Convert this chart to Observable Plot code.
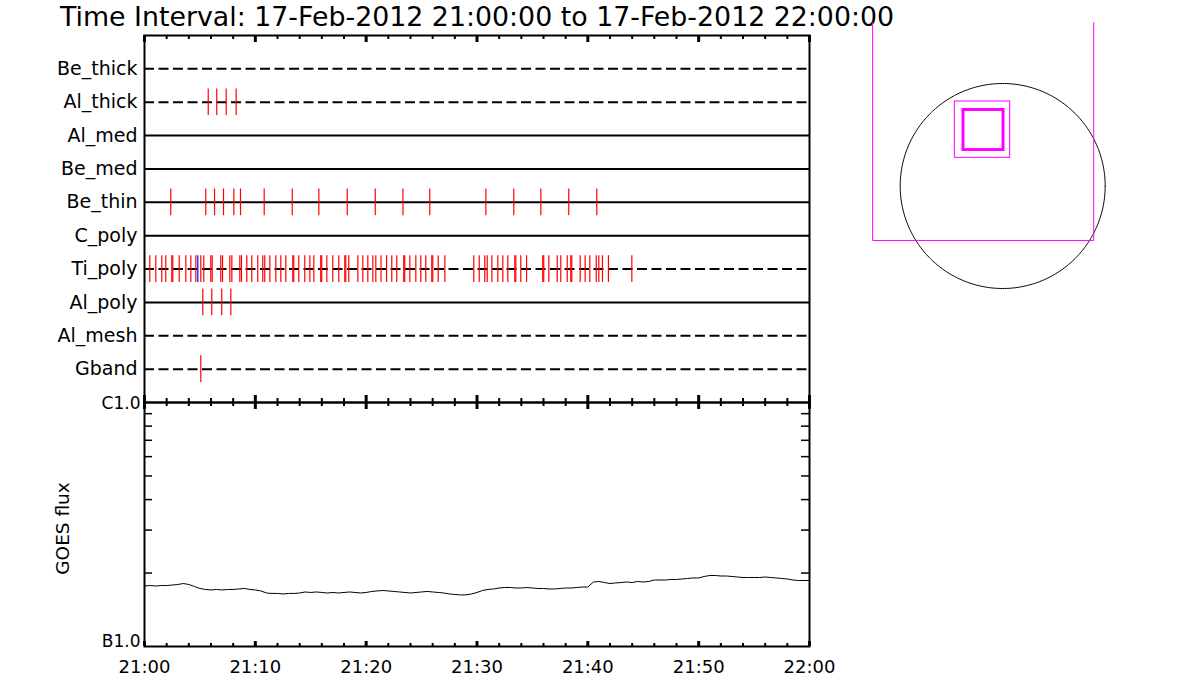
<!DOCTYPE html>
<html><head><meta charset="utf-8">
<script src="https://cdn.jsdelivr.net/npm/d3@7"></script>
<script src="https://cdn.jsdelivr.net/npm/@observablehq/plot@0.6"></script>
<style>
body{margin:0;background:#fff;}
#page{position:relative;width:1200px;height:700px;overflow:hidden;font-family:"DejaVu Sans",sans-serif;background:#fff;}
#title{position:absolute;left:60px;top:1px;font-size:26.8px;white-space:nowrap;color:#000;}
</style></head><body>
<div id="page"><div id="title">Time Interval: 17-Feb-2012 21:00:00 to 17-Feb-2012 22:00:00</div></div>
<script>
// ---- data (minutes after 21:00) ----
const rows = ["Be_thick","Al_thick","Al_med","Be_med","Be_thin","C_poly","Ti_poly","Al_poly","Al_mesh","Gband"];
const dashedRows = ["Be_thick","Al_thick","Ti_poly","Al_mesh","Gband"];
const solidRows = ["Al_med","Be_med","Be_thin","C_poly","Al_poly"];

const alThickTimes = [5.75, 6.52, 7.37, 8.27];
const beThinTimes = [2.37, 5.53, 6.32, 7.13, 8.06, 8.66, 10.80, 13.33, 15.73, 18.29, 20.82, 23.32, 25.74, 30.80, 33.32, 35.76, 38.28, 40.81];
const tiPolyTimes = [0.48,1.02,1.56,1.92,2.46,2.55,3.13,3.73,4.18,4.63,5.08,5.35,5.98,6.11,6.88,7.04,7.70,7.88,8.60,8.75,9.23,9.68,10.22,10.67,10.85,11.31,11.85,12.30,12.75,13.38,13.47,13.92,14.46,14.92,15.28,15.90,15.99,16.45,16.99,17.53,18.07,18.16,18.43,19.25,19.70,20.15,20.60,20.87,21.34,21.84,22.31,22.76,23.39,23.48,23.94,24.48,24.93,25.38,25.92,26.01,26.50,27.10,29.71,30.20,30.70,30.92,31.34,31.88,32.33,32.78,33.41,33.50,33.95,34.47,35.93,36.02,36.48,37.24,37.56,38.14,38.46,38.55,39.31,39.76,40.18,40.76,40.99,41.32,41.86,43.97];
const tiPolyBlueTimes = [4.81];
const alPolyTimes = [5.26, 6.07, 6.97, 7.79];
const gbandTimes = [5.08];

// GOES flux in units of 1e-7 W/m^2 (B1.0 = 1, C1.0 = 10), sampled every 0.5 min from 21:00
const goesFlux = [1.770,1.778,1.770,1.778,1.778,1.786,1.795,1.812,1.795,1.762,
1.729,1.713,1.705,1.713,1.705,1.713,1.713,1.721,1.729,1.713,
1.705,1.689,1.657,1.650,1.650,1.642,1.650,1.650,1.657,1.673,
1.665,1.673,1.665,1.657,1.665,1.657,1.665,1.673,1.665,1.657,
1.665,1.681,1.689,1.697,1.689,1.681,1.673,1.665,1.657,1.665,
1.673,1.681,1.673,1.665,1.657,1.642,1.634,1.627,1.627,1.642,
1.665,1.697,1.713,1.721,1.737,1.745,1.745,1.737,1.737,1.745,
1.737,1.729,1.729,1.721,1.721,1.729,1.737,1.737,1.745,1.753,
1.753,1.838,1.847,1.829,1.812,1.821,1.829,1.838,1.829,1.847,
1.838,1.847,1.873,1.873,1.873,1.882,1.882,1.891,1.900,1.909,
1.909,1.936,1.954,1.954,1.945,1.945,1.936,1.927,1.918,1.918,
1.918,1.918,1.927,1.918,1.909,1.900,1.891,1.873,1.864,1.864,1.864];
const goesCadence = 0.5;

const majorTicks = [0,10,20,30,40,50,60];
const tickLabels = ["21:00","21:10","21:20","21:30","21:40","21:50","22:00"];
const minorTicks = [2,4,6,8,12,14,16,18,22,24,26,28,32,34,36,38,42,44,46,48,52,54,56,58];
const fluxTopValue = 10, fluxTopLabel = "C1.0";
const fluxBottomValue = 1, fluxBottomLabel = "B1.0";
const fluxMinorTicks = [2,3,4,5,6,7,8,9];

// context image (arcsec)
const sunRadius = 975;
const fovX = [-1237, -1237, 866, 866];
const fovY = [1555, -518, -518, 1555];
const outerBox = {x1: -455, x2: 71, y1: 268, y2: 804};
const innerBox = {x1: -373, x2: 8, y1: 342, y2: 723};

// ---- build tables ----
const rowIndex = name => rows.indexOf(name) + 1;
const events = [
  ...alThickTimes.map(t => ({t, row: "Al_thick"})),
  ...beThinTimes.map(t => ({t, row: "Be_thin"})),
  ...tiPolyTimes.map(t => ({t, row: "Ti_poly"})),
  ...alPolyTimes.map(t => ({t, row: "Al_poly"})),
  ...gbandTimes.map(t => ({t, row: "Gband"}))
];
const blueEvents = tiPolyBlueTimes.map(t => ({t, row: "Ti_poly"}));
const goes = goesFlux.map((f, i) => ({t: i * goesCadence, f}));
const tickHalf = 0.4; // half length of an event tick, in row units

const font = {fontFamily: "'DejaVu Sans', sans-serif", color: "#000", background: "transparent", overflow: "visible"};
const page = document.getElementById("page");
function place(el, left, top) { el.style.position = "absolute"; el.style.left = left + "px"; el.style.top = top + "px"; page.appendChild(el); }

// ---- top panel ----
const tW = 840, tH = 410, tMT = 35, tMB = 8;
const tInner = tH - tMT - tMB;
const topPlot = Plot.plot({
  width: tW, height: tH, marginLeft: 144, marginRight: 31, marginTop: tMT, marginBottom: tMB,
  style: font,
  x: {domain: [0, 60], axis: null},
  y: {domain: [rows.length + 1, 0], axis: null},
  marks: [
    Plot.ruleY(solidRows, {y: rowIndex, stroke: "#000", strokeWidth: 2}),
    Plot.ruleY(dashedRows, {y: rowIndex, stroke: "#000", strokeWidth: 2, strokeDasharray: "10,4.5"}),
    Plot.ruleX(events, {x: "t", y1: d => rowIndex(d.row) - tickHalf, y2: d => rowIndex(d.row) + tickHalf, stroke: "#ff0000", strokeWidth: 1.2}),
    Plot.ruleX(blueEvents, {x: "t", y1: d => rowIndex(d.row) - tickHalf, y2: d => rowIndex(d.row) + tickHalf, stroke: "#0000ff", strokeWidth: 1.2}),
    Plot.ruleX(minorTicks, {x: d => d, stroke: "#000", strokeWidth: 2, insetBottom: tInner - 4}),
    Plot.ruleX(majorTicks, {x: d => d, stroke: "#000", strokeWidth: 3, insetBottom: tInner - 7}),
    Plot.ruleX(minorTicks, {x: d => d, stroke: "#000", strokeWidth: 2, insetTop: tInner - 4}),
    Plot.ruleX(majorTicks, {x: d => d, stroke: "#000", strokeWidth: 3, insetTop: tInner - 7}),
    Plot.axisY(rows.map((r, i) => i + 1), {tickSize: 0, tickPadding: 7, fontSize: 19, label: null, tickFormat: i => rows[i - 1]}),
    Plot.frame({stroke: "#000", strokeWidth: 2})
  ]
});
place(topPlot, 0, 0);

// ---- bottom panel ----
const bW = 840, bH = 300, bMT = 10, bMB = 46;
const bInnerH = bH - bMT - bMB;
const bInnerW = bW - 144 - 31;
const bottomPlot = Plot.plot({
  width: bW, height: bH, marginLeft: 144, marginRight: 31, marginTop: bMT, marginBottom: bMB,
  style: font,
  x: {domain: [0, 60], axis: null},
  y: {type: "log", domain: [1, 10], axis: null},
  marks: [
    Plot.line(goes, {x: "t", y: "f", stroke: "#000", strokeWidth: 1}),
    Plot.ruleX(minorTicks, {x: d => d, stroke: "#000", strokeWidth: 2, insetBottom: bInnerH - 4}),
    Plot.ruleX(majorTicks, {x: d => d, stroke: "#000", strokeWidth: 3, insetBottom: bInnerH - 7}),
    Plot.ruleX(minorTicks, {x: d => d, stroke: "#000", strokeWidth: 2, insetTop: bInnerH - 3}),
    Plot.ruleX(majorTicks, {x: d => d, stroke: "#000", strokeWidth: 3, insetTop: bInnerH - 5}),
    Plot.ruleY(fluxMinorTicks, {y: d => d, stroke: "#000", strokeWidth: 1.5, insetRight: bInnerW - 8}),
    Plot.ruleY(fluxMinorTicks, {y: d => d, stroke: "#000", strokeWidth: 1.5, insetLeft: bInnerW - 8}),
    Plot.axisX(majorTicks, {tickSize: 0, tickPadding: 14, fontSize: 18, tickFormat: d => tickLabels[majorTicks.indexOf(d)], label: null}),
    Plot.axisY([fluxTopValue], {tickSize: 0, tickPadding: 4, fontSize: 17, dy: 1, tickFormat: () => fluxTopLabel, label: null}),
    Plot.axisY([fluxBottomValue], {tickSize: 0, tickPadding: 4, fontSize: 17, dy: -5, tickFormat: () => fluxBottomLabel, label: null}),
    Plot.text(["GOES flux"], {frameAnchor: "left", textAnchor: "middle", dx: -81, dy: 4, rotate: -90, text: d => d, fontSize: 18.5, fill: "#000"}),
    Plot.frame({stroke: "#000", strokeWidth: 2})
  ]
});
place(bottomPlot, 0, 402 - bMT);

// ---- context image ----
const cW = 250, cH = 290;
const pxPerArc = 102.5 / sunRadius;
const cx0 = 142.2, cy0 = 175.5; // sun centre inside the panel (px)
const circle = d3.range(0, 361, 1).map(a => ({x: sunRadius * Math.cos(a * Math.PI / 180), y: sunRadius * Math.sin(a * Math.PI / 180)}));
const ctxPlot = Plot.plot({
  width: cW, height: cH, margin: 0,
  style: font,
  x: {domain: [-cx0 / pxPerArc, (cW - cx0) / pxPerArc], range: [0, cW], axis: null},
  y: {domain: [-(cH - cy0) / pxPerArc, cy0 / pxPerArc], range: [cH, 0], axis: null},
  marks: [
    Plot.line(circle, {x: "x", y: "y", stroke: "#000", strokeWidth: 1}),
    Plot.line(fovX.map((x, i) => ({x, y: fovY[i]})), {x: "x", y: "y", stroke: "#ff00ff", strokeWidth: 1}),
    Plot.rect([outerBox], {x1: "x1", x2: "x2", y1: "y1", y2: "y2", fill: "none", stroke: "#ff00ff", strokeWidth: 1}),
    Plot.rect([innerBox], {x1: "x1", x2: "x2", y1: "y1", y2: "y2", fill: "none", stroke: "#ff00ff", strokeWidth: 3})
  ]
});
place(ctxPlot, 860, 10);
</script>
</body></html>
